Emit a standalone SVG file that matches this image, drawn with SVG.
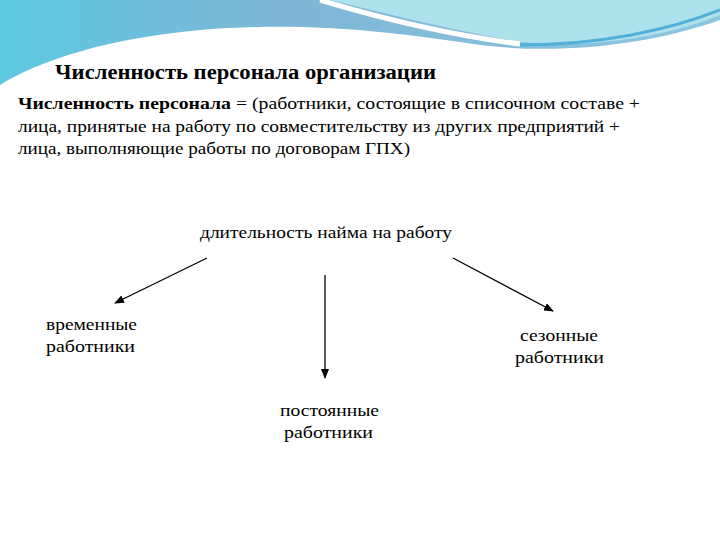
<svg xmlns="http://www.w3.org/2000/svg" width="720" height="540" viewBox="0 0 720 540">
<defs>
<linearGradient id="g1" x1="0" y1="0" x2="1" y2="0"><stop offset="0" stop-color="#5cc8e0"/><stop offset="0.4" stop-color="#7fb6d6"/><stop offset="1" stop-color="#8cc6e0"/></linearGradient>
<marker id="ah" markerWidth="10" markerHeight="8" refX="9" refY="4" orient="auto" markerUnits="userSpaceOnUse"><path d="M0,0 L10,4 L0,8 Z" fill="#000"/></marker>
<style>
.t{font-family:"Liberation Serif",serif;font-size:17px;fill:#000}
.c{stroke:#000;stroke-width:1.3;fill:none;marker-end:url(#ah)}
</style>
</defs>
<rect width="720" height="540" fill="#fff"/>
<g id="bg">
<path d="M0,0 H720 V20 C650,45 560,55 480,45 C380,30 300,22 200,30 C110,38 40,60 0,85 Z" fill="url(#g1)"/>
<path d="M330,0 H720 V15 C660,40 580,48 520,42 C450,30 380,12 330,0 Z" fill="#ade2ec"/>
<path d="M320,0 C380,18 450,35 520,44" stroke="#fff" stroke-width="5" fill="none"/>
<path d="M520,45 C600,45 670,30 720,10" stroke="#4fb0d8" stroke-width="3" fill="none"/>
</g>
<g id="title"><text x="55" y="79" style="font-family:'Liberation Serif',serif;font-size:20px;font-weight:bold" textLength="381" lengthAdjust="spacingAndGlyphs">Численность  персонала  организации</text></g>
<g id="def">
<text class="t" x="18" y="109" textLength="622" lengthAdjust="spacingAndGlyphs"><tspan font-weight="bold">Численность персонала</tspan> =  (работники, состоящие в списочном составе +</text>
<text class="t" x="18" y="132" textLength="602" lengthAdjust="spacingAndGlyphs">лица, принятые на работу по совместительству из других предприятий +</text>
<text class="t" x="18" y="154" textLength="392" lengthAdjust="spacingAndGlyphs">лица, выполняющие работы по договорам ГПХ)</text>
</g>
<g id="root"><text class="t" x="200" y="238" textLength="252" lengthAdjust="spacingAndGlyphs">длительность найма на работу</text></g>
<g id="temp"><text class="t" x="46" y="330" textLength="91" lengthAdjust="spacingAndGlyphs">временные</text><text class="t" x="46" y="352" textLength="89" lengthAdjust="spacingAndGlyphs">работники</text></g>
<g id="season"><text class="t" x="520" y="341" textLength="78" lengthAdjust="spacingAndGlyphs">сезонные</text><text class="t" x="515" y="363" textLength="89" lengthAdjust="spacingAndGlyphs">работники</text></g>
<g id="perm"><text class="t" x="280" y="416" textLength="99" lengthAdjust="spacingAndGlyphs">постоянные</text><text class="t" x="284" y="438" textLength="89" lengthAdjust="spacingAndGlyphs">работники</text></g>
<g id="connectors">
<line class="c" x1="207" y1="258" x2="115" y2="303"/>
<line class="c" x1="325" y1="275" x2="325" y2="378"/>
<line class="c" x1="453" y1="258" x2="553" y2="311"/>
</g>
</svg>
